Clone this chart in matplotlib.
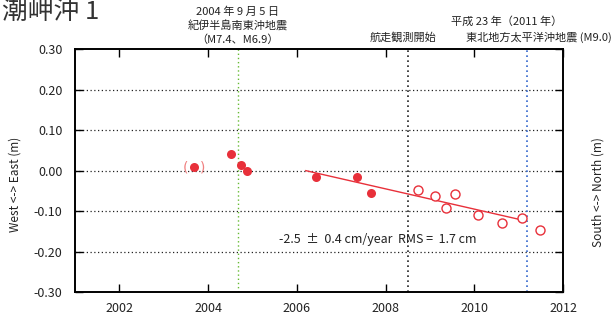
import matplotlib
matplotlib.use("Agg")
import matplotlib.pyplot as plt

plt.rcParams['font.family'] = ['Noto Sans CJK JP', 'DejaVu Sans']

# GPS/A site: east-west displacement (m)
# campaign before the ship-towed observations
early_t = [2004.52, 2004.73, 2004.88, 2006.42, 2007.36, 2007.66]
early_y = [0.041, 0.015, -0.001, -0.015, -0.015, -0.056]
# doubtful first epoch, drawn in brackets
bracket_t = [2003.68]
bracket_y = [0.008]
# after the start of ship-towed observations
later_t = [2008.73, 2009.12, 2009.35, 2009.57, 2010.07, 2010.62, 2011.07, 2011.47]
later_y = [-0.048, -0.062, -0.091, -0.058, -0.110, -0.128, -0.118, -0.146]

# linear fit: -2.5 cm/year between 2006.2 and 2011.05
fit_rate = -0.025
fit_start = 2006.2
fit_end = 2011.05
fit_y0 = 0.0

# event dates
kii_quake = 2004.68
towing_start = 2008.50
tohoku_quake = 2011.19

red = '#e8303a'
txt = '#222222'

fig = plt.figure(figsize=(6.14, 3.2), dpi=100)
ax = fig.add_axes([0.1221, 0.0866, 0.7953, 0.7603])

for yv in [-0.2, -0.1, 0.0, 0.1, 0.2]:
    ax.axhline(yv, color='#222222', linestyle=(0, (1, 2)), linewidth=0.9, zorder=1)

ax.axvline(kii_quake, color='#66bb33', linestyle=(0, (1, 2)), linewidth=1.0, zorder=1)
ax.axvline(towing_start, color='#222222', linestyle=(0, (1, 2)), linewidth=1.2, zorder=1)
ax.axvline(tohoku_quake, color='#3366cc', linestyle=(0, (1, 2)), linewidth=1.2, zorder=1)

ax.plot([fit_start, fit_end],
        [fit_y0, fit_y0 + fit_rate * (fit_end - fit_start)],
        color=red, linewidth=1.0, zorder=2)

ax.plot(bracket_t, bracket_y, 'o', color=red, markersize=6.5,
        markeredgewidth=0, zorder=3)
# brackets either side of the doubtful point
for ch, dx in [('(', -6), (')', 6)]:
    ax.annotate(ch, (bracket_t[0], bracket_y[0]), xytext=(dx, 0),
                textcoords='offset points', color='#f08080',
                ha='center', va='center', fontsize=10, zorder=3,
                family='DejaVu Sans')
ax.plot(early_t, early_y, 'o', color=red, markersize=6.5,
        markeredgewidth=0, zorder=3)
ax.plot(later_t, later_y, 'o', markerfacecolor='white', markeredgecolor=red,
        markersize=6.5, markeredgewidth=1.0, zorder=3)

ax.text(2005.6, -0.170, '-2.5  \u00b1  0.4 cm/year  RMS =  1.7 cm',
        fontsize=9, ha='left', va='center', color=txt)

ax.set_xlim(2001, 2012)
ax.set_ylim(-0.3, 0.3)
ax.set_xticks([2002, 2004, 2006, 2008, 2010, 2012])
ax.set_yticks([-0.3, -0.2, -0.1, 0.0, 0.1, 0.2, 0.3])
ax.set_yticklabels(['%.2f' % v for v in [-0.3, -0.2, -0.1, 0.0, 0.1, 0.2, 0.3]])
ax.tick_params(direction='in', length=6, width=1.0, labelsize=9,
               top=True, right=True, labelcolor=txt)
ax.tick_params(axis='y', pad=9)
ax.tick_params(axis='x', pad=7)
for sp in ax.spines.values():
    sp.set_linewidth(1.4)

fig.text(15 / 614, 0.425, 'West <-> East (m)', rotation=90,
         ha='center', va='center', fontsize=8.5, color=txt)
fig.text(598 / 614, 0.40, 'South <-> North (m)', rotation=90,
         ha='center', va='center', fontsize=8.5, color=txt)

fig.text(2 / 614, 1 - 12 / 320, '潮岬沖 1', fontsize=18.5,
         ha='left', va='center', color='#333333')

fig.text(238 / 614, 1 - 12 / 320, '2004 年 9 月 5 日', fontsize=8,
         ha='center', va='center', color=txt)
fig.text(238 / 614, 1 - 26 / 320, '紀伊半島南東沖地震', fontsize=8,
         ha='center', va='center', color=txt)
fig.text(238 / 614, 1 - 40 / 320, '（M7.4、M6.9）', fontsize=8,
         ha='center', va='center', color=txt)
fig.text(403 / 614, 1 - 37 / 320, '航走観測開始', fontsize=8,
         ha='center', va='center', color=txt)
fig.text(507 / 614, 1 - 22 / 320, '平成 23 年（2011 年）', fontsize=8,
         ha='center', va='center', color=txt)
fig.text(612 / 614, 1 - 37 / 320, '東北地方太平洋沖地震 (M9.0)', fontsize=8,
         ha='right', va='center', color=txt)

fig.savefig('out.png', dpi=100)
